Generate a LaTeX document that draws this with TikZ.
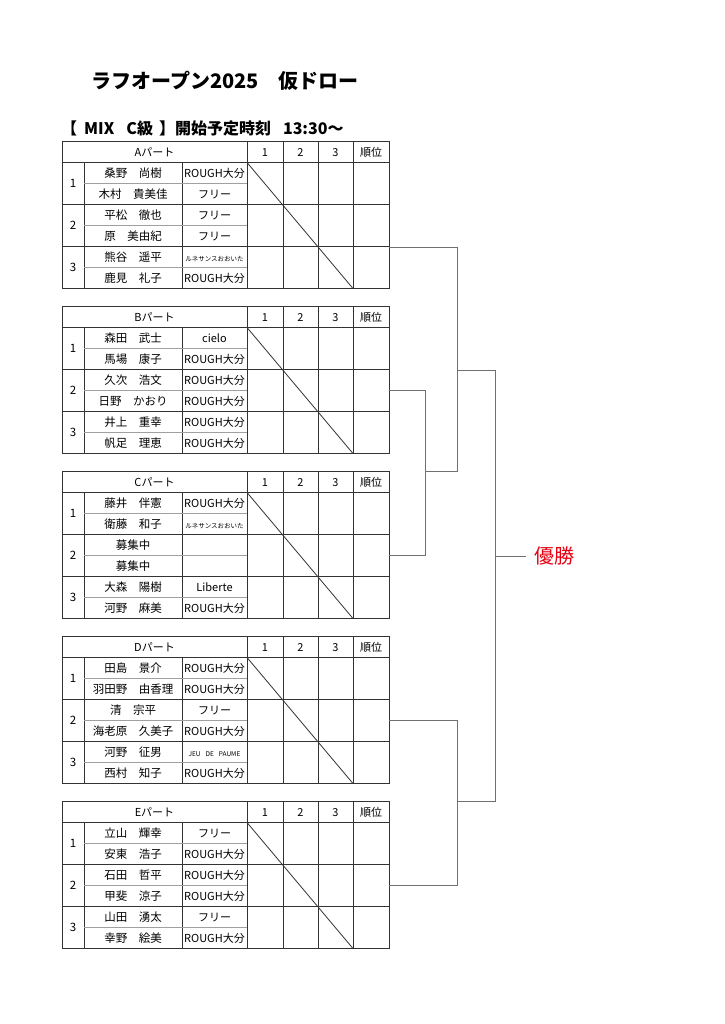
\documentclass[tikz,border=0pt]{standalone}
\usepackage{fontspec}
\setmainfont{Noto Sans CJK JP}
\definecolor{tblc}{HTML}{333333}
\definecolor{rowc}{HTML}{A0A0A0}
\definecolor{brkc}{HTML}{707070}
\definecolor{winc}{HTML}{E60012}
\newcommand\fsz[1]{\fontsize{#1}{#1}\selectfont}
\newcommand\clubsmall{\fsz{6.5}}
\tikzset{
  tline/.style={draw=tblc, line width=0.8pt},
  rline/.style={draw=rowc, line width=0.6pt},
  bline/.style={draw=brkc, line width=1pt},
  txt/.style={font=\fsz{11.5}, anchor=base, yshift=-4.4pt, inner sep=0pt},
  clubtxt/.style={font=\fsz{11}, anchor=base, yshift=-4.2pt, inner sep=0pt},
  headtxt/.style={font=\fsz{11}, anchor=base, yshift=-4.2pt, inner sep=0pt},
}
% #1 letter, #2 top y
\newcommand\parttable[2]{%
\begin{scope}[shift={(0,#2)}]
  \draw[tline] (62,0) rectangle (389,147);
  \draw[tline] (62,21) -- (389,21);
  \draw[tline] (62,63) -- (389,63);
  \draw[tline] (62,105) -- (389,105);
  \foreach \xx in {247,283,318,353} \draw[tline] (\xx,0) -- (\xx,147);
  \draw[tline] (84,21) -- (84,147);
  \draw[tline] (182,21) -- (182,147);
  \foreach \yy in {42,84,126} \draw[rline] (84,\yy) -- (247,\yy);
  \draw[tline] (247,21) -- (353,147);
  \node[headtxt] (#1-head) at (154.5,10.5) {#1パート};
  \node[headtxt] (#1-h1) at (265,10.5) {1};
  \node[headtxt] (#1-h2) at (300.5,10.5) {2};
  \node[headtxt] (#1-h3) at (335.5,10.5) {3};
  \node[headtxt] (#1-hr) at (371,10.5) {順位};
  \node[txt] (#1-g1) at (73,42) {1};
  \node[txt] (#1-g2) at (73,84) {2};
  \node[txt] (#1-g3) at (73,126) {3};
\end{scope}}
% #1 letter, #2 top y, #3 row index, #4 name, #5 club
\newcommand\prow[5]{%
  \node[txt] (#1-n#3) at (133,{#2+21*#3+10.5}) {#4};
  \node[clubtxt] (#1-c#3) at (214.5,{#2+21*#3+10.5}) {#5};}
\begin{document}
\begin{tikzpicture}[x=1pt,y=-1pt]
\useasboundingbox[fill=white] (0,0) rectangle (724,1024);
\node[font=\bfseries\fsz{20}, anchor=base, yshift=-7.6pt, inner sep=0pt] (title) at (225,81) {ラフオープン2025　仮ドロー};
\node[font=\bfseries\fsz{16}, anchor=base west, yshift=-6.1pt, inner sep=0pt] (subtitle) at (61,128) {【\hspace{7pt}MIX\hspace{12pt}C級\hspace{6pt}】開始予定時刻\hspace{12pt}13:30〜};
% tables
\parttable{A}{141.5}
\prow{A}{141.5}{1}{桑野　尚樹}{ROUGH大分}
\prow{A}{141.5}{2}{木村　貴美佳}{フリー}
\prow{A}{141.5}{3}{平松　徹也}{フリー}
\prow{A}{141.5}{4}{原　美由紀}{フリー}
\prow{A}{141.5}{5}{熊谷　遥平}{\clubsmall ルネサンスおおいた}
\prow{A}{141.5}{6}{鹿見　礼子}{ROUGH大分}
\parttable{B}{306.5}
\prow{B}{306.5}{1}{森田　武士}{cielo}
\prow{B}{306.5}{2}{馬場　康子}{ROUGH大分}
\prow{B}{306.5}{3}{久次　浩文}{ROUGH大分}
\prow{B}{306.5}{4}{日野　かおり}{ROUGH大分}
\prow{B}{306.5}{5}{井上　重幸}{ROUGH大分}
\prow{B}{306.5}{6}{帆足　理恵}{ROUGH大分}
\parttable{C}{471.5}
\prow{C}{471.5}{1}{藤井　伴憲}{ROUGH大分}
\prow{C}{471.5}{2}{衛藤　和子}{\clubsmall ルネサンスおおいた}
\prow{C}{471.5}{3}{募集中}{}
\prow{C}{471.5}{4}{募集中}{}
\prow{C}{471.5}{5}{大森　陽樹}{Liberte}
\prow{C}{471.5}{6}{河野　麻美}{ROUGH大分}
\parttable{D}{636.5}
\prow{D}{636.5}{1}{田島　景介}{ROUGH大分}
\prow{D}{636.5}{2}{羽田野　由香理}{ROUGH大分}
\prow{D}{636.5}{3}{清　宗平}{フリー}
\prow{D}{636.5}{4}{海老原　久美子}{ROUGH大分}
\prow{D}{636.5}{5}{河野　征男}{\clubsmall JEU\hspace{5pt}DE\hspace{5pt}PAUME}
\prow{D}{636.5}{6}{西村　知子}{ROUGH大分}
\parttable{E}{801.5}
\prow{E}{801.5}{1}{立山　輝幸}{フリー}
\prow{E}{801.5}{2}{安東　浩子}{ROUGH大分}
\prow{E}{801.5}{3}{石田　哲平}{ROUGH大分}
\prow{E}{801.5}{4}{甲斐　涼子}{ROUGH大分}
\prow{E}{801.5}{5}{山田　湧太}{フリー}
\prow{E}{801.5}{6}{幸野　絵美}{ROUGH大分}
% bracket coordinates
\coordinate (A-out) at (389,247.5);
\coordinate (B-out) at (389,390.5);
\coordinate (C-out) at (389,555.5);
\coordinate (D-out) at (389,720.5);
\coordinate (E-out) at (389,885.5);
\coordinate (BC-top) at (425,390.5);
\coordinate (BC-bot) at (425,555.5);
\coordinate (BC-mid) at (425,471.5);
\coordinate (ABC-top) at (457,247.5);
\coordinate (ABC-bot) at (457,471.5);
\coordinate (ABC-mid) at (457,370);
\coordinate (DE-top) at (457,720.5);
\coordinate (DE-bot) at (457,885.5);
\coordinate (DE-mid) at (457,801.5);
\coordinate (F-top) at (495,370);
\coordinate (F-bot) at (495,801.5);
\coordinate (F-mid) at (495,556);
\coordinate (F-end) at (526,556);
\draw[bline] (B-out) -- (BC-top) -- (BC-bot) -- (C-out);
\draw[bline] (BC-mid) -- (ABC-bot);
\draw[bline] (A-out) -- (ABC-top) -- (ABC-bot);
\draw[bline] (D-out) -- (DE-top) -- (DE-bot) -- (E-out);
\draw[bline] (ABC-mid) -- (F-top) -- (F-bot) -- (DE-mid);
\draw[bline] (F-mid) -- (F-end);
\node[font=\fsz{20}, text=winc, anchor=base west, yshift=-7.6pt, inner sep=0pt] (winner) at (534,556) {優勝};
\end{tikzpicture}
\end{document}
